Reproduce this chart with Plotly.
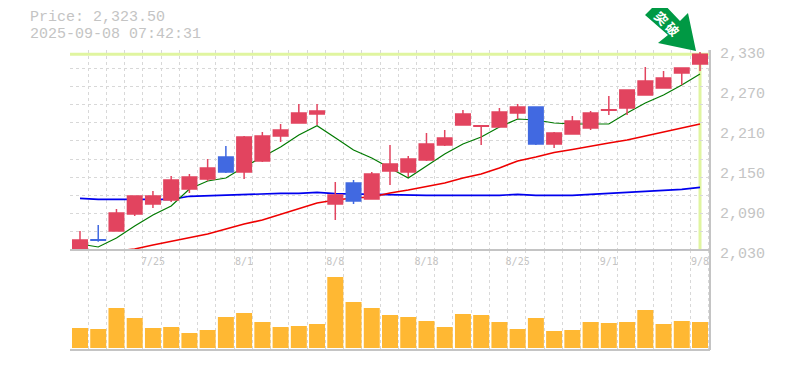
import plotly.graph_objects as go

dates = ["7/18","7/22","7/23","7/24","7/25","7/28","7/29","7/30","7/31","8/1","8/4","8/5","8/6","8/7","8/8",
         "8/12","8/13","8/14","8/15","8/18","8/19","8/20","8/21","8/22","8/25","8/26","8/27","8/28","8/29",
         "9/1","9/2","9/3","9/4","9/5","9/8"]
label_dates = ["7/25","8/1","8/8","8/18","8/25","9/1","9/8"]

opens = [2030,2045.5,2058.5,2084,2099,2105,2121.5,2136.5,2169.5,2147,2163.5,2201,2220.5,2234,2099,2130.5,2106.5,
         2148.5,2147,2165,2187.5,2217.5,2215.5,2214.5,2235.5,2244.5,2189,2204,2213,2239.5,2243,2262.5,2273,2295.5,2309]
closes = [2045,2044.5,2085.5,2111,2111,2135,2139.5,2153,2147,2199.5,2201,2210,2235.5,2238.5,2112.5,2103.5,2144,
          2159,2166.5,2189,2198,2234,2216.5,2237,2244.5,2189,2205.5,2223.5,2235.5,2240.5,2270,2283.5,2288,2303,2323.5]
highs = [2058.5,2067.5,2091.5,2111,2118.5,2141,2144,2166.5,2186,2201,2207,2219,2249,2249,2132,2135,2147,
         2187.5,2171,2205.5,2210,2240,2217.5,2243,2249,2244.5,2207,2231,2238.5,2261,2270,2304.5,2298.5,2303,2327]
lows = [2030,2042.5,2058.5,2081,2093,2102,2115.5,2133.5,2145.5,2136.5,2162,2192,2220.5,2217.5,2075,2099,2106.5,
        2127.5,2139.5,2163.5,2186,2217.5,2187.5,2214.5,2226.5,2187.5,2183,2204,2210,2232.5,2232.5,2262.5,2273,2277.5,2298.5]
ma_short = [2039,2034.5,2048,2066,2082.5,2096,2121.5,2133.5,2138,2154.5,2169.5,2184.5,2202.5,2216.5,2198.5,2180,2168,
            2153,2138,2156,2174,2189,2199.5,2214.5,2226.5,2225,2220.5,2219,2219,2219,2235.5,2250.5,2262.5,2277.5,2294]
ma_mid = [None,None,2028.5,2031.5,2037.5,2042.75,2048.75,2054,2061.5,2069,2075,2083.25,2091.5,2100.5,2105,2108,2109.5,
          2115.5,2120,2125.25,2130.5,2138,2144,2153,2163.5,2169.5,2176.25,2180.75,2186,2190.5,2195,2201,2207,2213,2219]
ma_long = [2107.5,2106,2106,2106,2106,2106,2110.5,2111.5,2111.5,2113.5,2113.5,2115,2115,2116.5,2114.5,2114,2112.5,
           2112,2112,2112,2112,2112,2112,2112,2113.5,2112,2112,2112,2113.5,2115,2116.5,2118,2119.5,2121,2124]
volumes = [20,19,40,30,20,21,15,18,31,35,26,21,22,24,71,46,40,33,31,27,21,34,33,26,19,30,17,18,26,25,26,38,24,27,26]

price_ticks = [2030,2090,2150,2210,2270,2330]
GRAY = "#C4C4C4"
GRID = "#D8D8D8"
RED = "#E2445F"
BLUE = "#4169E1"
LIME = "#E0F5A0"
n = len(dates)
x = list(range(n))
x_range = [-0.548, n - 1 + 0.548]
FONT = "Liberation Mono"

def px(xp, yp):
    return (xp - 70) / 640, (350 - yp) / 300

fig = go.Figure()
for vals, col, w in [(ma_long, "#0000EE", 1.6), (ma_mid, "#EE0000", 1.6), (ma_short, "#007A00", 1.2)]:
    fig.add_trace(go.Scatter(x=x, y=vals, mode="lines", line=dict(color=col, width=w), xaxis="x", yaxis="y", showlegend=False))
fig.add_trace(go.Candlestick(x=x, open=opens, high=highs, low=lows, close=closes, xaxis="x", yaxis="y3", showlegend=False,
                             increasing=dict(line=dict(color=RED, width=1.5), fillcolor=RED),
                             decreasing=dict(line=dict(color=BLUE, width=1.5), fillcolor=BLUE)))
fig.add_trace(go.Bar(x=x, y=volumes, marker=dict(color="#FFB833", line=dict(width=0)), xaxis="x2", yaxis="y2", showlegend=False))

minor_x = dict(showgrid=True, gridcolor=GRID, griddash="3px,3px", gridwidth=1, tick0=x_range[0], dtick=1, ticklen=0)
grid_vals = [2030 + 300 * k / 11 for k in range(12)]

arrow = [(660,0),(645,15),(668,35),(658,43),(696,51),(688,13),(680,21)]
path = "M " + " L ".join("%.5f %.5f" % px(*p) for p in arrow) + " Z"
frame_shapes = [
    dict(type="line", xref="paper", yref="paper", x0=0, x1=1, y0=1/3, y1=1/3, line=dict(color=GRAY, width=2)),
    dict(type="line", xref="paper", yref="paper", x0=0, x1=1, y0=0, y1=0, line=dict(color=GRAY, width=2)),
    dict(type="line", xref="paper", yref="paper", x0=1, x1=1, y0=0, y1=1, line=dict(color=GRAY, width=2)),
    dict(type="line", xref="x", yref="y", x0=x_range[0], x1=x_range[1], y0=closes[-1], y1=closes[-1], layer="below", line=dict(color=LIME, width=3)),
    dict(type="line", xref="x", yref="y", x0=x[-1], x1=x[-1], y0=closes[-1], y1=2030, layer="below", line=dict(color=LIME, width=3)),
    dict(type="path", xref="paper", yref="paper", path=path, fillcolor="#009944", line=dict(width=0)),
]

ann = [
    dict(text="Price: 2,323.50", xref="paper", yref="paper", x=px(28,0)[0], y=px(0,18)[1], xanchor="left", yanchor="middle",
         showarrow=False, font=dict(family=FONT, size=15, color=GRAY)),
    dict(text="2025-09-08 07:42:31", xref="paper", yref="paper", x=px(28,0)[0], y=px(0,34.5)[1], xanchor="left", yanchor="middle",
         showarrow=False, font=dict(family=FONT, size=15, color=GRAY)),
    dict(text="<b>突</b>", xref="paper", yref="paper", x=px(661,0)[0], y=px(0,18)[1], xanchor="center", yanchor="middle", textangle=45,
         showarrow=False, font=dict(family="Noto Sans CJK JP", size=13, color="white")),
    dict(text="<b>破</b>", xref="paper", yref="paper", x=px(672,0)[0], y=px(0,29)[1], xanchor="center", yanchor="middle", textangle=45,
         showarrow=False, font=dict(family="Noto Sans CJK JP", size=13, color="white")),
]

fig.update_layout(
    width=777, height=362, autosize=False,
    margin=dict(l=62, r=75, t=42, b=20, pad=0, autoexpand=False),
    paper_bgcolor="white", plot_bgcolor="white",
    showlegend=False, bargap=0.123, boxgap=0.205, boxgroupgap=0,
    shapes=frame_shapes, annotations=ann,
    xaxis=dict(domain=[0,1], anchor="y", range=x_range, showgrid=False, zeroline=False, rangeslider=dict(visible=False), automargin=False,
               tickmode="array", tickvals=[dates.index(d) for d in label_dates], ticktext=label_dates, ticks="", ticklabelstandoff=4,
               tickfont=dict(family="DejaVu Sans Mono", size=10, color=GRAY), minor=minor_x),
    xaxis2=dict(domain=[0,1], anchor="y2", range=x_range, showgrid=False, zeroline=False, showticklabels=False, ticks="", minor=minor_x, automargin=False),
    yaxis=dict(domain=[1/3,1], anchor="x", range=[2030,2330], tickmode="array", tickvals=grid_vals, showticklabels=False, ticks="", automargin=False,
               showgrid=True, gridcolor=GRID, griddash="3px,3px", gridwidth=1, zeroline=False),
    yaxis3=dict(overlaying="y", anchor="x", side="right", range=[2030,2330], tickmode="array", tickvals=price_ticks, tickformat=",", automargin=False,
                showgrid=False, zeroline=False, ticks="", ticklabelstandoff=9, ticklabelshift=3,
                tickfont=dict(family=FONT, size=15, color=GRAY)),
    yaxis2=dict(domain=[0,1/3], anchor="x2", range=[-2,98], showgrid=False, zeroline=False, showticklabels=False, ticks="", automargin=False),
)
fig.write_html("out.html")
